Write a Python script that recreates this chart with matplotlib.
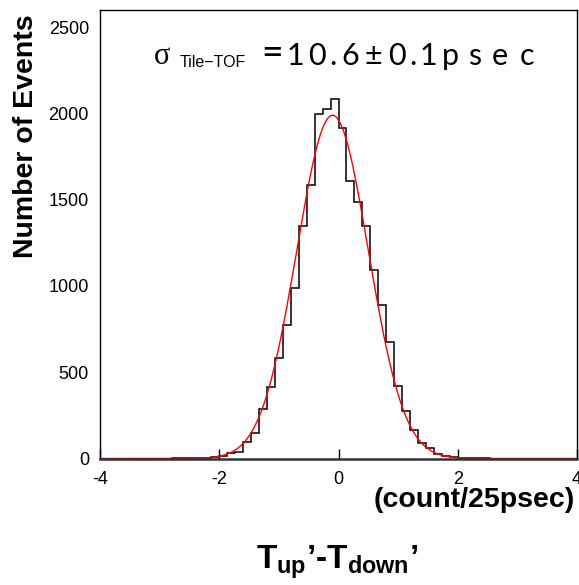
import numpy as np
import matplotlib
matplotlib.use("Agg")
import matplotlib.pyplot as plt
from matplotlib import font_manager

# ---------------- data ----------------
bin_lo = -4.0
bin_hi = 4.0
n_bins = 60
counts = [0, 0, 0, 0, 0, 0, 0, 0, 0, 1, 1, 2,
          3, 5, 7, 16, 30, 36, 97, 145, 286, 415,
          584, 775, 986, 1346, 1583, 1999, 2028, 2083,
          1916, 1606, 1488, 1350, 1092, 892, 678, 419,
          276, 165, 88, 63, 24, 14, 9, 4, 2, 1, 1, 0,
          0, 0, 0, 0, 0, 0, 0, 0, 0, 0]
fit_amp = 1990.0
fit_mean = -0.1
fit_sigma = 0.60
x_ticks = [-4, -2, 0, 2, 4]
y_ticks = [0, 500, 1000, 1500, 2000, 2500]
fit_value_text = "=10.6±0.1psec"

# ---------------- fonts ----------------
avail = {f.name for f in font_manager.fontManager.ttflist}
sans = "Liberation Sans" if "Liberation Sans" in avail else "DejaVu Sans"
serif = "Liberation Serif" if "Liberation Serif" in avail else "DejaVu Serif"
plt.rcParams['font.family'] = [sans, 'DejaVu Sans']
plt.rcParams['mathtext.fontset'] = 'custom'
plt.rcParams['mathtext.rm'] = sans
plt.rcParams['mathtext.bf'] = sans + ':bold'
plt.rcParams['mathtext.it'] = sans + ':italic'

W, H = 579, 585
fig = plt.figure(figsize=(W / 100, H / 100), dpi=100)
ax = fig.add_axes([100 / W, 1 - 458.5 / H, 477 / W, 448.5 / H])

edges = np.linspace(bin_lo, bin_hi, n_bins + 1)
ax.stairs(counts, edges, color='black', lw=1.1)

xf = np.linspace(bin_lo, bin_hi, 800)
yf = fit_amp * np.exp(-0.5 * ((xf - fit_mean) / fit_sigma) ** 2)
ax.plot(xf, yf, color='red', lw=1.0)

ax.set_xlim(bin_lo, bin_hi)
ax.set_ylim(0, 2600)
ax.set_xticks(x_ticks)
ax.set_xticklabels([str(t) for t in x_ticks])
ax.set_yticks(y_ticks)
ax.set_yticklabels([str(t) for t in y_ticks])
ax.tick_params(axis='x', direction='in', length=7, width=1, labelsize=13, pad=9)
ax.tick_params(axis='y', length=0, labelsize=13, pad=8)
for s in ['left', 'right', 'top']:
    ax.spines[s].set_linewidth(1.0)
ax.spines['bottom'].set_linewidth(1.8)
ax.spines['bottom'].set_color('#333333')


def fx(px):
    return px / W


def fy(py):
    return 1 - py / H


# y label
fig.text(fx(26), fy(136), "Number of Events", rotation=90, ha='center', va='center',
         fontsize=20.5, fontweight='bold')
# unit label
fig.text(fx(575), fy(500), "(count/25psec)", ha='right', va='center',
         fontsize=20.5, fontweight='bold')
# main x label
fig.text(fx(337), fy(569), r"$\mathbf{T_{up}}$’-$\mathbf{T_{down}}$’", ha='center',
         va='baseline', fontsize=24, fontweight='bold')

# fit annotation (sigma, subscript, spaced value characters)
light = "Lato" if "Lato" in avail else sans
fig.text(fx(154), fy(64), "σ", ha='left', va='baseline', fontsize=22, family=serif)
fig.text(fx(180), fy(67), "Tile−TOF", ha='left', va='baseline', fontsize=11.5, family=sans)
char_centers = [272, 295, 317, 333, 350, 373, 397, 413, 428, 450, 475, 500, 527]
char_sizes = [27, 22, 22, 22, 22, 22, 22, 22, 22, 22, 22, 22, 22]
for ch, cx, fs in zip(fit_value_text, char_centers, char_sizes):
    fig.text(fx(cx), fy(65), ch, ha='center', va='baseline', fontsize=fs,
             family=light, fontweight='normal', color='black')

fig.savefig("out.png", dpi=100)
